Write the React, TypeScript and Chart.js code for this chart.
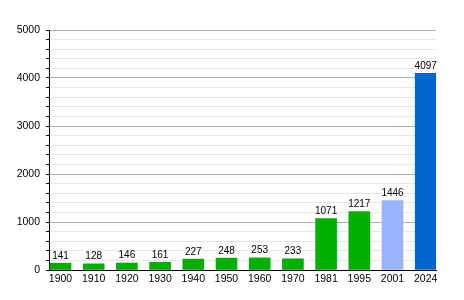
import React, { useEffect, useRef } from "react";
import { Chart, registerables } from "chart.js";

Chart.register(...registerables);

const categories = ["1900", "1910", "1920", "1930", "1940", "1950", "1960", "1970", "1981", "1995", "2001", "2024"];
const values = [141, 128, 146, 161, 227, 248, 253, 233, 1071, 1217, 1446, 4097];
const barColors = ["#00b000", "#00b000", "#00b000", "#00b000", "#00b000", "#00b000", "#00b000", "#00b000", "#00b000", "#00b000", "#99b3ff", "#0066cc"];
const yMax = 5000;
const yStep = 200;
const yMajor = 1000;

const FONT = "'Liberation Sans', Arial, sans-serif";

const valueLabels = {
  id: "valueLabels",
  afterDatasetsDraw(chart: any) {
    const ctx = chart.ctx;
    const meta = chart.getDatasetMeta(0);
    ctx.save();
    ctx.font = `10px ${FONT}`;
    ctx.fillStyle = "#000";
    ctx.textAlign = "center";
    ctx.textBaseline = "alphabetic";
    meta.data.forEach((bar: any, i: number) => {
      ctx.fillText(String(values[i]), bar.x, bar.y - 4.5);
    });
    ctx.restore();
  },
};

export default function App() {
  const ref = useRef<HTMLCanvasElement>(null);
  useEffect(() => {
    document.body.style.margin = "0";
    const chart = new Chart(ref.current!, {
      type: "bar",
      data: {
        datasets: [
          {
            data: values.map((v, i) => ({ x: i, y: v })),
            backgroundColor: barColors,
            barThickness: 21,
            borderWidth: 0,
          },
        ],
      },
      options: {
        animation: false,
        responsive: false,
        events: [],
        layout: { padding: { top: 30, right: 28, left: 0, bottom: 0 } },
        plugins: { legend: { display: false }, tooltip: { enabled: false } },
        scales: {
          x: {
            type: "linear",
            offset: false,
            min: -0.346,
            max: 11.31,
            afterFit: (s: any) => {
              s.height = 30;
            },
            afterBuildTicks: (s: any) => {
              s.ticks = categories.map((_, i) => ({ value: i }));
            },
            grid: { display: false, drawTicks: false },
            border: { display: true, color: "#000", width: 1 },
            ticks: {
              autoSkip: false,
              maxRotation: 0,
              padding: 3,
              color: "#000",
              font: { family: FONT, size: 10.5 },
              callback: (v: any) => categories[v] ?? "",
            },
          },
          y: {
            min: 0,
            max: yMax,
            afterFit: (s: any) => {
              s.width = 49;
            },
            grid: {
              color: (c: any) => (c.tick && c.tick.value % yMajor === 0 ? "#b0b0b0" : "#e6e6e6"),
              tickColor: "#000",
              tickLength: 3,
              drawTicks: true,
            },
            border: { display: true, color: "#000", width: 1 },
            ticks: {
              stepSize: yStep,
              autoSkip: false,
              padding: 6,
              color: "#000",
              font: { family: FONT, size: 10.5 },
              callback: (v: any) => (v % yMajor === 0 ? String(v) : ""),
            },
          },
        },
      },
      plugins: [valueLabels],
    } as any);
    return () => chart.destroy();
  }, []);
  return <canvas ref={ref} width={464} height={300} style={{ display: "block" }} />;
}
